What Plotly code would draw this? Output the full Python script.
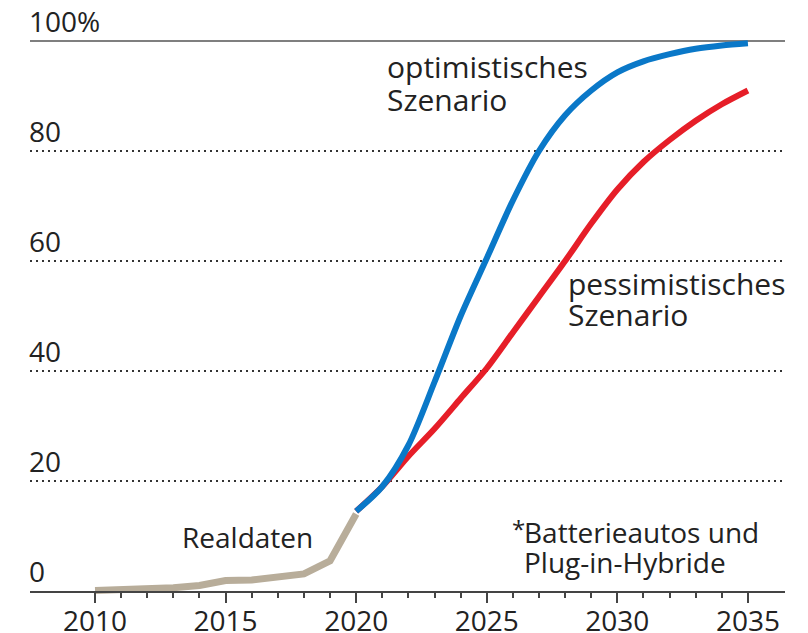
import plotly.graph_objects as go

# ---- data ----
years_real = list(range(2010, 2021))
real_values = [0.1, 0.2, 0.3, 0.6, 1.0, 1.9, 2.0, 2.6, 3.1, 5.5, 14.0]

years_scen = list(range(2020, 2036))
optimistic = [14.5, 19, 26.5, 38, 50, 60.5, 71, 80, 86.5, 91, 94.3, 96.3, 97.6, 98.6, 99.2, 99.6]
pessimistic = [14.5, 19, 24.5, 29.5, 35, 40.5, 47, 53.5, 60, 66.8, 73, 78, 82, 85.5, 88.5, 91]

x_tickvals = [2010, 2015, 2020, 2025, 2030, 2035]
x_ticktext = ["2010", "2015", "2020", "2025", "2030", "2035"]
x_minor = [y for y in range(2010, 2036) if y % 5 != 0]
y_tickvals = [0, 20, 40, 60, 80, 100]
y_ticktext = ["0", "20", "40", "60", "80", "100%"]
y_dotted = [20, 40, 60, 80]

FONT = "Open Sans"
TXT = "#222222"
AX = "#444444"

fig = go.Figure()
fig.add_trace(go.Scatter(x=years_real, y=real_values, mode="lines",
                         line=dict(color="#b8ad9a", width=7), hoverinfo="skip"))
fig.add_trace(go.Scatter(x=years_scen, y=pessimistic, mode="lines",
                         line=dict(color="#e61e28", width=6, shape="spline", smoothing=0.8),
                         hoverinfo="skip"))
fig.add_trace(go.Scatter(x=years_scen, y=optimistic, mode="lines",
                         line=dict(color="#0a78c8", width=6, shape="spline", smoothing=0.8),
                         hoverinfo="skip"))
# empty helper trace so that the x axis can be drawn on the (invisible) y2 subplot
fig.add_trace(go.Scatter(x=[], y=[], xaxis="x", yaxis="y2", mode="lines",
                         hoverinfo="skip", showlegend=False))

# solid top line at 100
fig.add_shape(type="line", xref="paper", x0=0, x1=1, yref="y", y0=100, y1=100,
              line=dict(color="#555555", width=1.5), layer="below")

# y tick labels (placed above their grid lines)
for v, t in zip(y_tickvals, y_ticktext):
    fig.add_annotation(x=0, xref="paper", y=v, yref="y", text=t, showarrow=False,
                       xanchor="left", yanchor="middle", yshift=20.5, xshift=-3,
                       font=dict(family=FONT, size=28, color=TXT))

ann = [
    dict(x=2021.22, y=95.3, text="optimistisches", size=30),
    dict(x=2021.22, y=89.3, text="Szenario", size=30),
    dict(x=2028.13, y=56.0, text="pessimistisches", size=30),
    dict(x=2028.13, y=50.3, text="Szenario", size=30),
    dict(x=2013.37, y=9.8, text="Realdaten", size=28),
    dict(x=2026.46, y=10.8, text="Batterieautos und", size=28),
    dict(x=2026.46, y=5.2, text="Plug-in-Hybride", size=28),
    dict(x=2025.99, y=11.4, text="*", size=24),
]
for a in ann:
    fig.add_annotation(x=a["x"], y=a["y"], xref="x", yref="y", text=a["text"],
                       showarrow=False, xanchor="left", yanchor="middle", align="left",
                       xshift=-3,
                       font=dict(family=FONT, size=a["size"], color=TXT))

d = (602 - 591) / 583
fig.update_layout(
    width=808, height=633,
    margin=dict(l=30, r=23, t=19, b=31, pad=0),
    paper_bgcolor="white", plot_bgcolor="rgba(0,0,0,0)",
    showlegend=False,
    font=dict(family=FONT, color=TXT),
    xaxis=dict(range=[2007.51, 2036.42], anchor="y2", automargin=False,
               showline=True, linecolor=AX, linewidth=1.5,
               tickvals=x_tickvals, ticktext=x_ticktext,
               ticks="outside", ticklen=10, tickwidth=1.5, tickcolor=AX,
               ticklabelstandoff=-5,
               minor=dict(tickvals=x_minor, ticks="outside", ticklen=5,
                          tickwidth=1.5, tickcolor=AX, showgrid=False),
               showgrid=False, zeroline=False,
               tickfont=dict(family=FONT, size=28, color=TXT)),
    yaxis=dict(range=[-2, 104], domain=[0, 1], showline=False, zeroline=False,
               automargin=False, showticklabels=False,
               tickvals=y_dotted, ticks="",
               showgrid=True, gridcolor="#333333", gridwidth=2, griddash="2px,4px"),
    yaxis2=dict(domain=[d, 1], range=[0, 1], visible=False, automargin=False),
)

fig.write_html("out.html", config={"displayModeBar": False},
               post_script="document.body.style.margin='0';")
